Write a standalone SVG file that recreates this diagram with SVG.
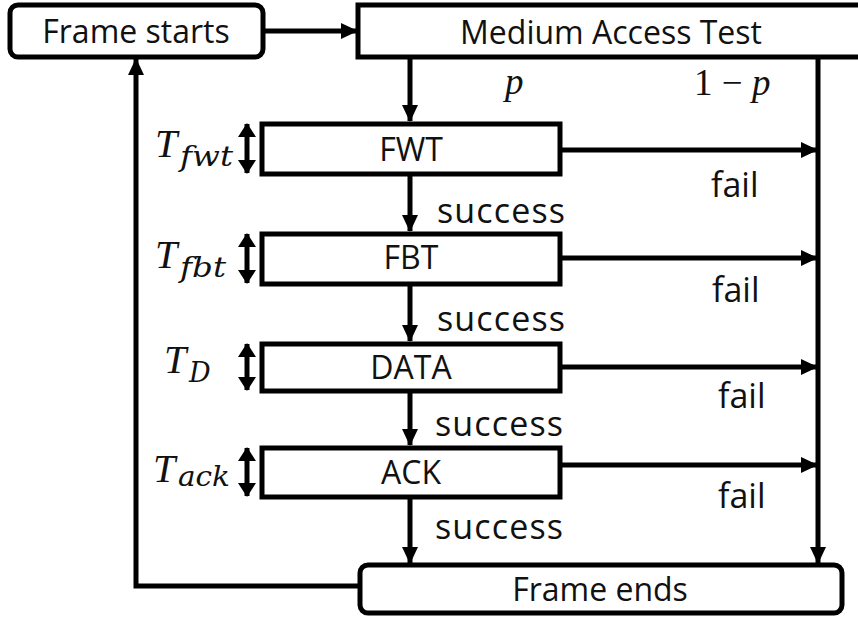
<svg xmlns="http://www.w3.org/2000/svg" width="858" height="619" viewBox="0 0 858 619">
<defs>
<marker id="ah" markerWidth="17" markerHeight="16" refX="16" refY="8" orient="auto" markerUnits="userSpaceOnUse">
<path d="M0,0 L17,8 L0,16 Z" fill="#000"/>
</marker>
<marker id="dh" markerWidth="14" markerHeight="18" refX="13" refY="9" orient="auto-start-reverse" markerUnits="userSpaceOnUse">
<path d="M0,0 L14,9 L0,18 Z" fill="#000"/>
</marker>
<style>
.box{fill:#fff;stroke:#000;stroke-width:5}
.lbl{font-family:"Open Sans","Noto Sans",sans-serif;fill:#111;text-anchor:middle}
.big{font-size:32px}
.mid{font-size:32px}
.edge{font-family:"Open Sans","Noto Sans",sans-serif;font-size:34px;fill:#111}
.conn{stroke:#000;stroke-width:5;fill:none}
.math{font-family:"Liberation Serif","DejaVu Serif",serif;font-style:italic;fill:#111}
.sub{font-family:"DejaVu Serif","Liberation Serif",serif;font-style:italic;fill:#111;font-size:27px}
</style>
</defs>
<g id="connectors">
<line class="conn" x1="263" y1="31" x2="357" y2="31" marker-end="url(#ah)"/>
<line class="conn" x1="410" y1="57" x2="410" y2="121" marker-end="url(#ah)"/>
<line class="conn" x1="410" y1="174" x2="410" y2="231" marker-end="url(#ah)"/>
<line class="conn" x1="410" y1="284" x2="410" y2="341" marker-end="url(#ah)"/>
<line class="conn" x1="410" y1="391" x2="410" y2="445" marker-end="url(#ah)"/>
<line class="conn" x1="410" y1="497" x2="410" y2="563" marker-end="url(#ah)"/>
<line class="conn" x1="818" y1="57" x2="818" y2="563" marker-end="url(#ah)"/>
<line class="conn" x1="560" y1="150" x2="817" y2="150" marker-end="url(#ah)"/>
<line class="conn" x1="560" y1="258" x2="817" y2="258" marker-end="url(#ah)"/>
<line class="conn" x1="560" y1="367" x2="817" y2="367" marker-end="url(#ah)"/>
<line class="conn" x1="560" y1="465" x2="817" y2="465" marker-end="url(#ah)"/>
<path class="conn" d="M360,586 H136 V59" marker-end="url(#ah)"/>
<line class="conn" x1="247" y1="124" x2="247" y2="173" marker-start="url(#dh)" marker-end="url(#dh)"/>
<line class="conn" x1="247" y1="234" x2="247" y2="283" marker-start="url(#dh)" marker-end="url(#dh)"/>
<line class="conn" x1="247" y1="344" x2="247" y2="390" marker-start="url(#dh)" marker-end="url(#dh)"/>
<line class="conn" x1="247" y1="448" x2="247" y2="496" marker-start="url(#dh)" marker-end="url(#dh)"/>
<text class="math" x="505" y="94" font-size="37">p</text>
<text class="math" x="694" y="95" font-size="37"><tspan font-style="normal">1</tspan> <tspan font-style="normal">−</tspan> p</text>
<text class="edge" x="437" y="223" textLength="128">success</text>
<text class="edge" x="437" y="331" textLength="128">success</text>
<text class="edge" x="435" y="436" textLength="128">success</text>
<text class="edge" x="435" y="539" textLength="128">success</text>
<text class="edge" x="711" y="197">fail</text>
<text class="edge" x="712" y="302">fail</text>
<text class="edge" x="718" y="408">fail</text>
<text class="edge" x="718" y="508">fail</text>
</g>
<g id="fwt">
<rect class="box" x="262" y="124" width="298" height="50"/>
<text class="lbl mid" x="411" y="161">FWT</text>
<text class="math" x="155" y="157" font-size="40">T</text>
<text class="sub" x="180" y="166" textLength="53" lengthAdjust="spacingAndGlyphs">fwt</text>
</g>
<g id="fbt">
<rect class="box" x="262" y="234" width="298" height="50"/>
<text class="lbl mid" x="411" y="269">FBT</text>
<text class="math" x="155" y="268" font-size="40">T</text>
<text class="sub" x="180" y="277" textLength="46" lengthAdjust="spacingAndGlyphs">fbt</text>
</g>
<g id="data">
<rect class="box" x="262" y="344" width="298" height="47"/>
<text class="lbl mid" x="411" y="379">DATA</text>
<text class="math" x="164" y="373" font-size="40">T</text>
<text class="sub" x="189" y="382" font-size="30">D</text>
</g>
<g id="ack">
<rect class="box" x="262" y="448" width="298" height="49"/>
<text class="lbl mid" x="411" y="484">ACK</text>
<text class="math" x="153" y="482" font-size="40">T</text>
<text class="sub" x="178" y="486" textLength="52" lengthAdjust="spacingAndGlyphs">ack</text>
</g>
<g id="frame-starts">
<rect class="box" x="10" y="5" width="253" height="52" rx="8"/>
<text class="lbl big" x="136" y="43">Frame starts</text>
</g>
<g id="medium-access-test">
<rect class="box" x="358" y="5" width="520" height="52"/>
<text class="lbl big" x="611" y="44">Medium Access Test</text>
</g>
<g id="frame-ends">
<rect class="box" x="360" y="565" width="482" height="48" rx="8"/>
<text class="lbl big" x="600" y="601">Frame ends</text>
</g>
</svg>
